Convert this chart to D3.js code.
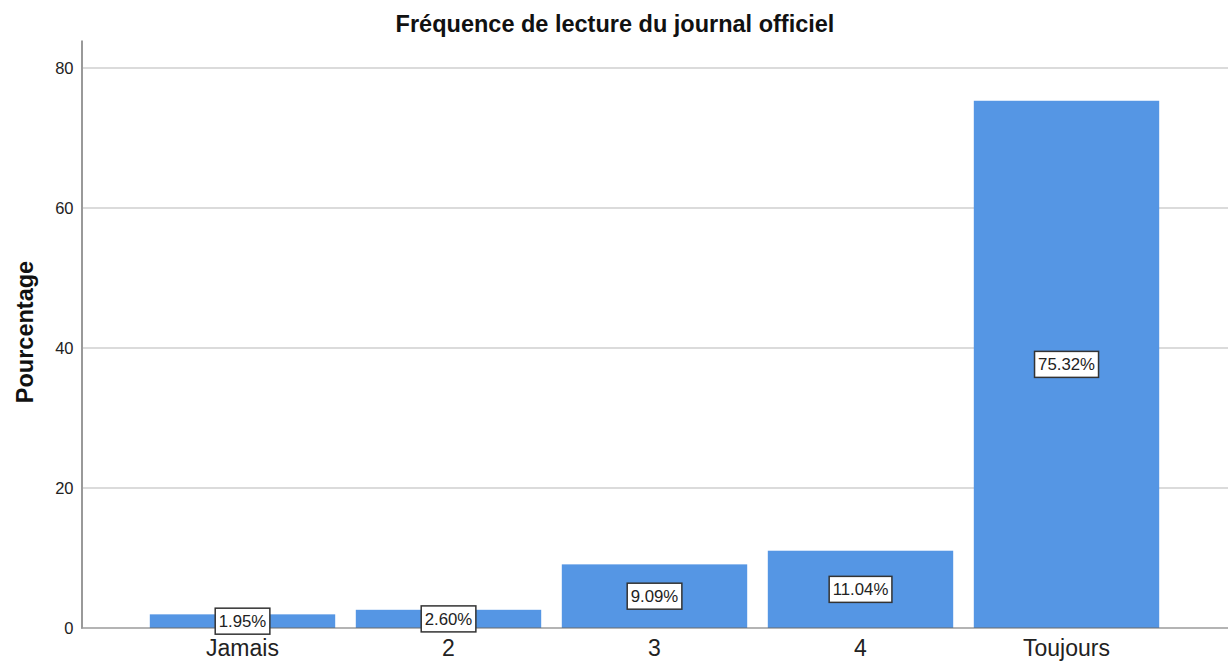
<!DOCTYPE html>
<html>
<head>
<meta charset="utf-8">
<script src="https://cdn.jsdelivr.net/npm/d3@7"></script>
<style>
  body { margin: 0; background: #fff; }
  svg { font-family: "Liberation Sans", Arial, sans-serif; }
</style>
</head>
<body>
<svg width="1230" height="665"></svg>
<script>
const categories = ["Jamais", "2", "3", "4", "Toujours"]
const percents   = [1.95, 2.60, 9.09, 11.04, 75.32]
const yTicks     = [0, 20, 40, 60, 80]

const svg = d3.select("svg")

const x = d3.scaleBand()
  .domain(categories)
  .range([139.5, 1169.5])
  .paddingInner(0.1)
  .paddingOuter(0.05)

const y = d3.scaleLinear()
  .domain([0, 84])
  .range([628, 40])

// gridlines
svg.append("g")
  .selectAll("line")
  .data(yTicks.filter(d => d > 0))
  .join("line")
  .attr("x1", 81).attr("x2", 1228)
  .attr("y1", d => y(d)).attr("y2", d => y(d))
  .attr("stroke", "#cfcfcf")
  .attr("stroke-width", 1.5)

// bars
svg.append("g")
  .selectAll("rect")
  .data(percents)
  .join("rect")
  .attr("x", (d, i) => x(categories[i]))
  .attr("y", d => y(d))
  .attr("width", x.bandwidth())
  .attr("height", d => y(0) - y(d))
  .attr("fill", "#5596e4")

// x baseline
svg.append("line")
  .attr("x1", 81).attr("x2", 1228)
  .attr("y1", y(0)).attr("y2", y(0))
  .attr("stroke", "#6b6b6b").attr("stroke-width", 1.2)

// y axis
const yAxis = d3.axisLeft(y).tickValues(yTicks).tickSize(0).tickPadding(8)
const gy = svg.append("g").attr("transform", "translate(81.5,0)").call(yAxis)
gy.select(".domain").attr("stroke", "#999").attr("stroke-width", 2)
gy.selectAll("text").attr("font-size", 16.5).attr("fill", "#222")
  .attr("font-family", "Liberation Sans, Arial, sans-serif")

// x axis labels
const xAxis = d3.axisBottom(x).tickSize(0).tickPadding(12)
const gx = svg.append("g").attr("transform", `translate(0,${y(0)})`).call(xAxis)
gx.select(".domain").remove()
gx.selectAll("text").attr("font-size", 23).attr("fill", "#222")
  .attr("font-family", "Liberation Sans, Arial, sans-serif")

// value labels in boxes
const labels = svg.append("g")
  .selectAll("g")
  .data(percents)
  .join("g")
  .attr("transform", (d, i) => `translate(${x(categories[i]) + x.bandwidth() / 2},${(y(d) + y(0)) / 2})`)

labels.append("text")
  .attr("text-anchor", "middle")
  .attr("dy", "0.36em")
  .attr("font-size", 16.8)
  .attr("fill", "#222")
  .text(d => d.toFixed(2) + "%")

labels.each(function() {
  const g = d3.select(this)
  const bb = g.select("text").node().getBBox()
  g.insert("rect", "text")
    .attr("x", bb.x - 3.5)
    .attr("y", -13)
    .attr("width", bb.width + 7)
    .attr("height", 26)
    .attr("fill", "#fff")
    .attr("stroke", "#333")
    .attr("stroke-width", 1.5)
})

// title
svg.append("text")
  .attr("x", 615).attr("y", 32)
  .attr("text-anchor", "middle")
  .attr("font-size", 23.5)
  .attr("font-weight", "bold")
  .attr("fill", "#111")
  .text("Fréquence de lecture du journal officiel")

// y title
svg.append("text")
  .attr("transform", "translate(33,332) rotate(-90)")
  .attr("text-anchor", "middle")
  .attr("font-size", 23.5)
  .attr("font-weight", "bold")
  .attr("fill", "#111")
  .text("Pourcentage")
</script>
</body>
</html>
